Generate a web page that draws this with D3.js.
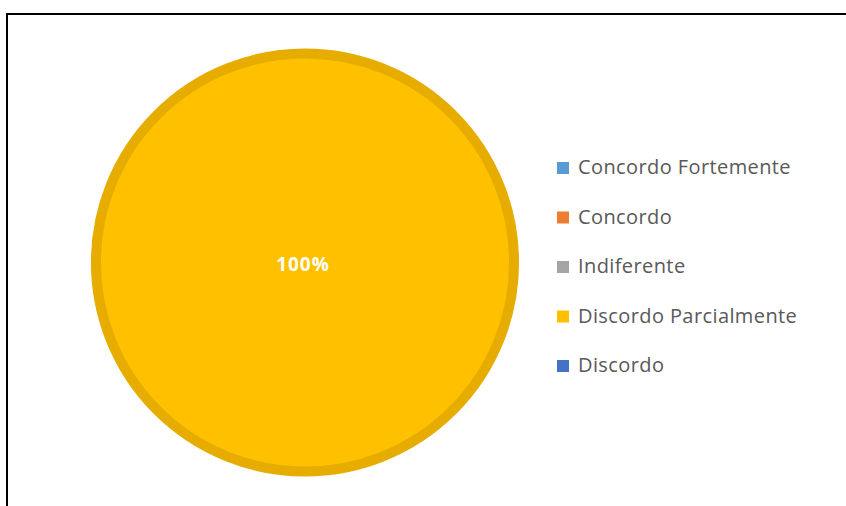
<!DOCTYPE html>
<html><head><meta charset="utf-8">
<script src="https://cdn.jsdelivr.net/npm/d3@7"></script>
<style>html,body{margin:0;padding:0;background:#fff;}</style>
</head><body>
<svg id="chart" width="846" height="506"></svg>
<script>
const categories = ["Concordo Fortemente","Concordo","Indiferente","Discordo Parcialmente","Discordo"];
const values = [0, 0, 0, 100, 0];
const colors = ["#5B9BD5","#ED7D31","#A5A5A5","#FFC000","#4472C4"];
const strokeColors = ["#4F8BC1","#D56F2B","#949494","#E6AD00","#3D66B0"];

const svg = d3.select("#chart");
svg.append("rect").attr("x",7).attr("y",14).attr("width",850).attr("height",500)
  .attr("fill","none").attr("stroke","#000").attr("stroke-width",2);

const cx = 305, cy = 262.5, r = 209;
const total = d3.sum(values);
const pie = d3.pie().sort(null).value(d => d)(values);
const arc = d3.arc().innerRadius(0).outerRadius(r);
const g = svg.append("g").attr("transform",`translate(${cx},${cy})`);
g.selectAll("path").data(pie.filter(d => d.value > 0)).join("path")
  .attr("d", arc)
  .attr("fill", d => colors[d.index])
  .attr("stroke", d => strokeColors[d.index])
  .attr("stroke-width", 10)
  .attr("stroke-linejoin","round");
g.selectAll("text.lbl").data(pie.filter(d => d.value > 0)).join("text")
  .attr("class","lbl")
  .attr("transform", d => {
    const full = (d.endAngle - d.startAngle) >= 2*Math.PI - 1e-6;
    return full ? "translate(-2,3)" : `translate(${d3.arc().innerRadius(r*0.6).outerRadius(r*0.6).centroid(d)})`;
  })
  .attr("text-anchor","middle").attr("dominant-baseline","middle")
  .attr("fill","#fff").attr("font-family","'Open Sans', sans-serif").attr("font-weight","bold")
  .attr("font-size",19).attr("letter-spacing",1)
  .text(d => Math.round(d.value/total*100) + "%");

const legY = d3.scalePoint().domain(categories).range([169, 367]);
const leg = svg.append("g").selectAll("g").data(categories).join("g")
  .attr("transform", d => `translate(557,${legY(d)})`);
leg.append("rect").attr("x",0).attr("y",-7).attr("width",12).attr("height",12)
  .attr("fill",(d,i) => colors[i]);
leg.append("text").attr("x",21).attr("y",0).attr("dominant-baseline","middle")
  .attr("fill","#595959").attr("font-family","'Open Sans', sans-serif").attr("font-size",20)
  .attr("letter-spacing",0.4)
  .text(d => d);
</script>
</body></html>
